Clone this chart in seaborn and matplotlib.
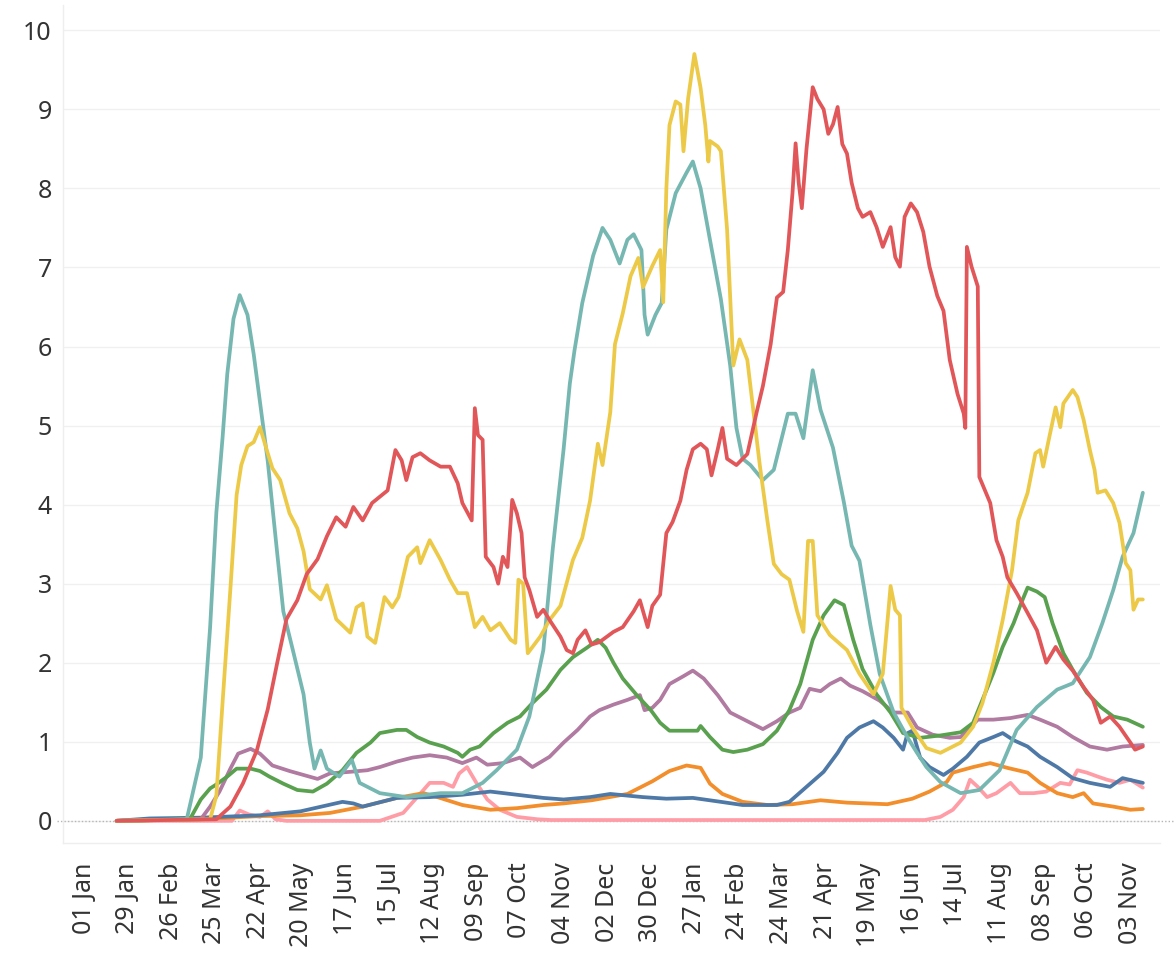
import pandas as pd
import seaborn as sns
import matplotlib.pyplot as plt

START = pd.Timestamp('2020-01-01')

# (day since 01 Jan 2020, value)
teal = [(21, 0), (66, 0.02), (75, 0.8), (81, 2.45), (85, 3.9), (89, 4.85), (92, 5.65), (96, 6.35),
        (100, 6.65), (105, 6.4), (109, 5.9), (113, 5.3), (118, 4.55), (124, 3.4), (128, 2.65),
        (134, 2.17), (141, 1.6), (145, 0.99), (148, 0.66), (152, 0.89), (156, 0.66), (164, 0.56),
        (172, 0.77), (177, 0.48), (190, 0.35), (207, 0.3), (229, 0.35), (243, 0.35), (256, 0.48),
        (265, 0.64), (278, 0.9), (286, 1.32), (295, 2.16), (301, 3.43), (308, 4.7), (312, 5.53),
        (315, 5.95), (320, 6.55), (327, 7.15), (333, 7.5), (338, 7.35), (344, 7.05), (349, 7.35),
        (353, 7.42), (358, 7.22), (360, 6.4), (362, 6.15), (367, 6.4), (371, 6.55), (374, 7.48),
        (380, 7.94), (387, 8.2), (391, 8.34), (396, 8.0), (402, 7.35), (409, 6.6), (415, 5.76),
        (419, 4.97), (423, 4.58), (428, 4.5), (436, 4.31), (443, 4.44), (452, 5.15), (457, 5.15),
        (462, 4.84), (465, 5.27), (468, 5.7), (473, 5.2), (481, 4.72), (488, 4.03), (493, 3.48),
        (498, 3.29), (505, 2.48), (511, 1.86), (520, 1.37), (529, 1.05), (535, 0.86), (541, 0.68),
        (550, 0.49), (563, 0.35), (575, 0.39), (588, 0.64), (599, 1.15), (612, 1.44), (625, 1.66),
        (635, 1.74), (646, 2.07), (654, 2.5), (661, 2.92), (667, 3.34), (674, 3.64), (680, 4.15)]

yellow = [(21, 0), (81, 0.02), (85, 0.32), (89, 1.5), (94, 2.93), (98, 4.12), (101, 4.5), (105, 4.74),
          (109, 4.79), (113, 4.98), (118, 4.65), (121, 4.46), (126, 4.31), (132, 3.89), (137, 3.7),
          (141, 3.41), (145, 2.93), (152, 2.8), (156, 2.98), (162, 2.55), (171, 2.38), (175, 2.7),
          (179, 2.75), (182, 2.33), (187, 2.25), (193, 2.83), (198, 2.7), (202, 2.83), (208, 3.34),
          (214, 3.46), (216, 3.26), (222, 3.55), (229, 3.3), (235, 3.05), (240, 2.88), (246, 2.88),
          (251, 2.45), (256, 2.58), (261, 2.41), (267, 2.5), (274, 2.29), (277, 2.25), (279, 3.05),
          (282, 3.0), (285, 2.12), (293, 2.33), (299, 2.54), (306, 2.72), (314, 3.3), (320, 3.58),
          (325, 4.05), (330, 4.77), (333, 4.5), (338, 5.17), (341, 6.03), (346, 6.42), (351, 6.89),
          (356, 7.12), (359, 6.75), (365, 7.02), (370, 7.22), (372, 6.56), (374, 8.0), (376, 8.8),
          (380, 9.1), (383, 9.06), (385, 8.47), (388, 9.14), (392, 9.7), (396, 9.27), (399, 8.8),
          (401, 8.34), (402, 8.6), (407, 8.53), (409, 8.47), (413, 7.48), (417, 5.76), (421, 6.09),
          (426, 5.83), (430, 5.17), (434, 4.5), (439, 3.78), (443, 3.25), (448, 3.12), (453, 3.05),
          (458, 2.65), (462, 2.39), (465, 3.54), (468, 3.54), (471, 2.6), (479, 2.35), (490, 2.16),
          (498, 1.86), (507, 1.6), (513, 1.86), (518, 2.97), (521, 2.67), (524, 2.6), (525, 1.43),
          (532, 1.18), (541, 0.92), (550, 0.86), (563, 0.99), (571, 1.19), (577, 1.49), (584, 2.0),
          (590, 2.54), (596, 3.17), (600, 3.8), (606, 4.15), (611, 4.65), (614, 4.69), (616, 4.48),
          (620, 4.86), (624, 5.23), (627, 4.98), (629, 5.28), (635, 5.45), (638, 5.36), (642, 5.07),
          (646, 4.69), (649, 4.44), (651, 4.15), (656, 4.18), (661, 4.02), (665, 3.77), (669, 3.26),
          (672, 3.17), (674, 2.67), (677, 2.8), (680, 2.8)]

red = [(21, 0), (85, 0.02), (94, 0.18), (102, 0.47), (111, 0.89), (118, 1.41), (124, 1.99), (130, 2.55),
       (137, 2.79), (143, 3.12), (150, 3.31), (156, 3.6), (162, 3.84), (168, 3.72), (173, 3.97),
       (179, 3.8), (185, 4.02), (190, 4.1), (195, 4.18), (200, 4.69), (204, 4.56), (207, 4.31),
       (211, 4.6), (216, 4.65), (222, 4.56), (229, 4.48), (235, 4.48), (240, 4.27), (243, 4.02),
       (249, 3.8), (251, 5.22), (253, 4.88), (256, 4.82), (258, 3.34), (263, 3.21), (266, 3.0),
       (269, 3.34), (272, 3.21), (275, 4.06), (278, 3.89), (281, 3.64), (283, 3.08), (286, 2.92),
       (291, 2.58), (295, 2.67), (299, 2.54), (306, 2.33), (310, 2.16), (314, 2.12), (317, 2.29),
       (322, 2.41), (326, 2.23), (331, 2.26), (340, 2.39), (346, 2.45), (353, 2.65), (357, 2.79),
       (362, 2.45), (365, 2.72), (370, 2.86), (374, 3.64), (378, 3.78), (383, 4.05), (387, 4.44),
       (391, 4.7), (396, 4.77), (400, 4.7), (403, 4.37), (407, 4.7), (410, 4.97), (413, 4.58),
       (419, 4.5), (426, 4.64), (432, 5.17), (436, 5.5), (441, 6.03), (445, 6.62), (449, 6.69),
       (452, 7.22), (455, 7.94), (457, 8.57), (459, 8.07), (461, 7.75), (464, 8.5), (468, 9.28),
       (471, 9.13), (475, 9.0), (478, 8.69), (481, 8.81), (484, 9.03), (487, 8.56), (490, 8.44),
       (493, 8.07), (497, 7.75), (500, 7.64), (505, 7.7), (509, 7.51), (513, 7.26), (518, 7.51),
       (521, 7.13), (524, 7.01), (527, 7.64), (531, 7.81), (535, 7.7), (539, 7.45), (543, 7.01),
       (548, 6.64), (552, 6.45), (556, 5.83), (561, 5.4), (565, 5.15), (566, 4.97), (567, 7.26),
       (570, 7.01), (574, 6.76), (575, 4.35), (582, 4.02), (586, 3.55), (590, 3.34), (593, 3.08),
       (599, 2.88), (606, 2.63), (612, 2.41), (618, 2.0), (624, 2.2), (629, 2.04), (635, 1.9),
       (642, 1.69), (648, 1.53), (653, 1.24), (659, 1.32), (665, 1.19), (672, 0.99), (675, 0.9),
       (680, 0.94)]

green = [(21, 0), (68, 0.02), (75, 0.27), (81, 0.41), (85, 0.46), (92, 0.56), (98, 0.66), (107, 0.66),
         (113, 0.63), (119, 0.56), (128, 0.47), (137, 0.39), (147, 0.37), (156, 0.47), (166, 0.64),
         (175, 0.86), (184, 0.99), (190, 1.11), (201, 1.15), (207, 1.15), (214, 1.06), (222, 0.99),
         (231, 0.94), (240, 0.86), (243, 0.81), (248, 0.9), (254, 0.94), (263, 1.11), (272, 1.24),
         (280, 1.32), (288, 1.49), (297, 1.66), (306, 1.91), (314, 2.07), (323, 2.19), (330, 2.29),
         (335, 2.19), (340, 2.0), (346, 1.8), (355, 1.59), (364, 1.4), (370, 1.24), (376, 1.14),
         (385, 1.14), (394, 1.14), (396, 1.2), (402, 1.06), (410, 0.9), (417, 0.87), (426, 0.9),
         (436, 0.97), (445, 1.14), (453, 1.4), (460, 1.73), (468, 2.29), (475, 2.6), (482, 2.79),
         (488, 2.73), (494, 2.29), (500, 1.92), (509, 1.6), (518, 1.37), (526, 1.11), (537, 1.05),
         (550, 1.08), (563, 1.12), (571, 1.24), (577, 1.53), (584, 1.87), (590, 2.2), (597, 2.5),
         (602, 2.76), (606, 2.95), (612, 2.9), (617, 2.83), (622, 2.5), (629, 2.12), (635, 1.91),
         (644, 1.62), (653, 1.44), (661, 1.32), (670, 1.28), (680, 1.19)]

purple = [(21, 0), (75, 0.02), (81, 0.18), (87, 0.37), (94, 0.66), (99, 0.85), (107, 0.91), (113, 0.85),
          (121, 0.7), (132, 0.63), (141, 0.58), (150, 0.53), (158, 0.6), (171, 0.62), (182, 0.64),
          (190, 0.68), (201, 0.75), (211, 0.8), (222, 0.83), (233, 0.8), (243, 0.73), (252, 0.8),
          (259, 0.71), (269, 0.73), (280, 0.8), (288, 0.68), (299, 0.81), (308, 0.99), (317, 1.15),
          (325, 1.32), (331, 1.4), (340, 1.47), (349, 1.53), (357, 1.59), (360, 1.4), (365, 1.43),
          (370, 1.53), (376, 1.73), (385, 1.83), (391, 1.9), (398, 1.8), (407, 1.59), (415, 1.37),
          (426, 1.26), (436, 1.16), (445, 1.26), (453, 1.37), (460, 1.43), (466, 1.67), (473, 1.64),
          (479, 1.73), (486, 1.8), (492, 1.71), (500, 1.64), (511, 1.52), (520, 1.37), (529, 1.37),
          (535, 1.18), (545, 1.09), (556, 1.05), (563, 1.06), (569, 1.18), (574, 1.28), (584, 1.28),
          (595, 1.3), (606, 1.34), (614, 1.28), (625, 1.19), (635, 1.06), (646, 0.94), (657, 0.9),
          (667, 0.94), (680, 0.96)]

blue = [(21, 0), (42, 0.03), (75, 0.04), (113, 0.07), (139, 0.12), (166, 0.24), (173, 0.22), (179, 0.18),
        (201, 0.29), (222, 0.3), (243, 0.33), (261, 0.37), (278, 0.33), (295, 0.29), (308, 0.27),
        (325, 0.3), (338, 0.34), (359, 0.3), (374, 0.28), (391, 0.29), (409, 0.24), (423, 0.2),
        (445, 0.2), (453, 0.24), (464, 0.43), (475, 0.62), (484, 0.86), (490, 1.05), (498, 1.18),
        (507, 1.26), (513, 1.18), (520, 1.05), (526, 0.9), (529, 1.11), (532, 1.14), (537, 0.8),
        (543, 0.68), (552, 0.58), (558, 0.66), (567, 0.81), (575, 0.99), (584, 1.06), (590, 1.11),
        (597, 1.02), (606, 0.94), (614, 0.81), (625, 0.68), (635, 0.54), (646, 0.48), (659, 0.43),
        (667, 0.54), (680, 0.48)]

orange = [(21, 0), (75, 0.02), (113, 0.06), (139, 0.07), (158, 0.1), (179, 0.18), (201, 0.29), (218, 0.35),
          (227, 0.3), (243, 0.2), (261, 0.14), (278, 0.16), (295, 0.2), (308, 0.22), (326, 0.26),
          (349, 0.34), (365, 0.5), (376, 0.63), (387, 0.7), (396, 0.67), (402, 0.47), (410, 0.34),
          (423, 0.24), (439, 0.2), (455, 0.21), (473, 0.26), (490, 0.23), (516, 0.21), (532, 0.28),
          (543, 0.37), (554, 0.49), (558, 0.61), (571, 0.68), (582, 0.73), (593, 0.67), (606, 0.61),
          (614, 0.48), (625, 0.35), (635, 0.3), (642, 0.35), (648, 0.22), (661, 0.18), (672, 0.14),
          (680, 0.15)]

pink = [(21, 0), (95, 0), (100, 0.13), (106, 0.08), (113, 0.05), (118, 0.12), (123, 0.02), (130, 0),
        (190, 0), (205, 0.1), (214, 0.3), (222, 0.48), (231, 0.48), (237, 0.43), (241, 0.6), (246, 0.68),
        (249, 0.58), (252, 0.48), (259, 0.27), (267, 0.14), (278, 0.05), (291, 0.02), (300, 0.01),
        (540, 0.01), (550, 0.05), (558, 0.14), (565, 0.3), (569, 0.52), (574, 0.43), (580, 0.3),
        (586, 0.35), (595, 0.48), (601, 0.35), (610, 0.35), (618, 0.37), (627, 0.48), (633, 0.46),
        (638, 0.64), (644, 0.61), (651, 0.56), (657, 0.52), (665, 0.48), (672, 0.52), (680, 0.42)]

# draw order: last one ends up on top
series = {'pink': pink, 'orange': orange, 'blue': blue, 'purple': purple,
          'green': green, 'teal': teal, 'yellow': yellow, 'red': red}
palette = {'teal': '#76b7b2', 'yellow': '#edc948', 'red': '#e15759', 'green': '#59a14f',
           'purple': '#b07aa1', 'blue': '#4e79a7', 'orange': '#f28e2b', 'pink': '#ff9da7'}

frames = []
for name, pts in series.items():
    days, vals = zip(*pts)
    frames.append(pd.DataFrame({'date': START + pd.to_timedelta(list(days), unit='D'),
                                'value': vals, 'series': name}))
df = pd.concat(frames, ignore_index=True)

sns.set_theme(style='white')
plt.rcParams['font.family'] = ['Noto Sans', 'DejaVu Sans']

fig = plt.figure(figsize=(11.75, 9.59), dpi=100)
ax = fig.add_axes([0.0536, 0.121, 0.9336, 0.8738])

# dotted zero line runs a little past the plot area, as in Tableau
ax.axhline(0, xmin=-0.005, xmax=1.014, color='#b5b5b5', lw=1.0, ls=(0, (1, 1.5)),
           zorder=1, clip_on=False)
sns.lineplot(data=df, x='date', y='value', hue='series', hue_order=list(series),
             palette=palette, estimator=None, sort=False, linewidth=2.7, legend=False, ax=ax)

ax.set_ylim(-0.28, 10.32)
ax.set_yticks(range(0, 11))
ax.set_xlim(START - pd.Timedelta(days=13.5), START + pd.Timedelta(days=691))
tick_dates = pd.date_range('2020-01-01', '2021-11-03', freq='28D')
ax.set_xticks(tick_dates)
ax.set_xticklabels([d.strftime('%d %b') for d in tick_dates], rotation=90)

ax.set_xlabel('')
ax.set_ylabel('')
ax.yaxis.grid(True, color='#f0f0f0', lw=1)
ax.xaxis.grid(False)
for side in ['top', 'right']:
    ax.spines[side].set_visible(False)
for side in ['left', 'bottom']:
    ax.spines[side].set_color('#eeeeee')
    ax.spines[side].set_linewidth(1)

ax.tick_params(axis='both', length=0, labelsize=18, colors='#333333')
ax.tick_params(axis='x', pad=14)
ax.tick_params(axis='y', pad=8)

fig.savefig('out.png', dpi=100)
